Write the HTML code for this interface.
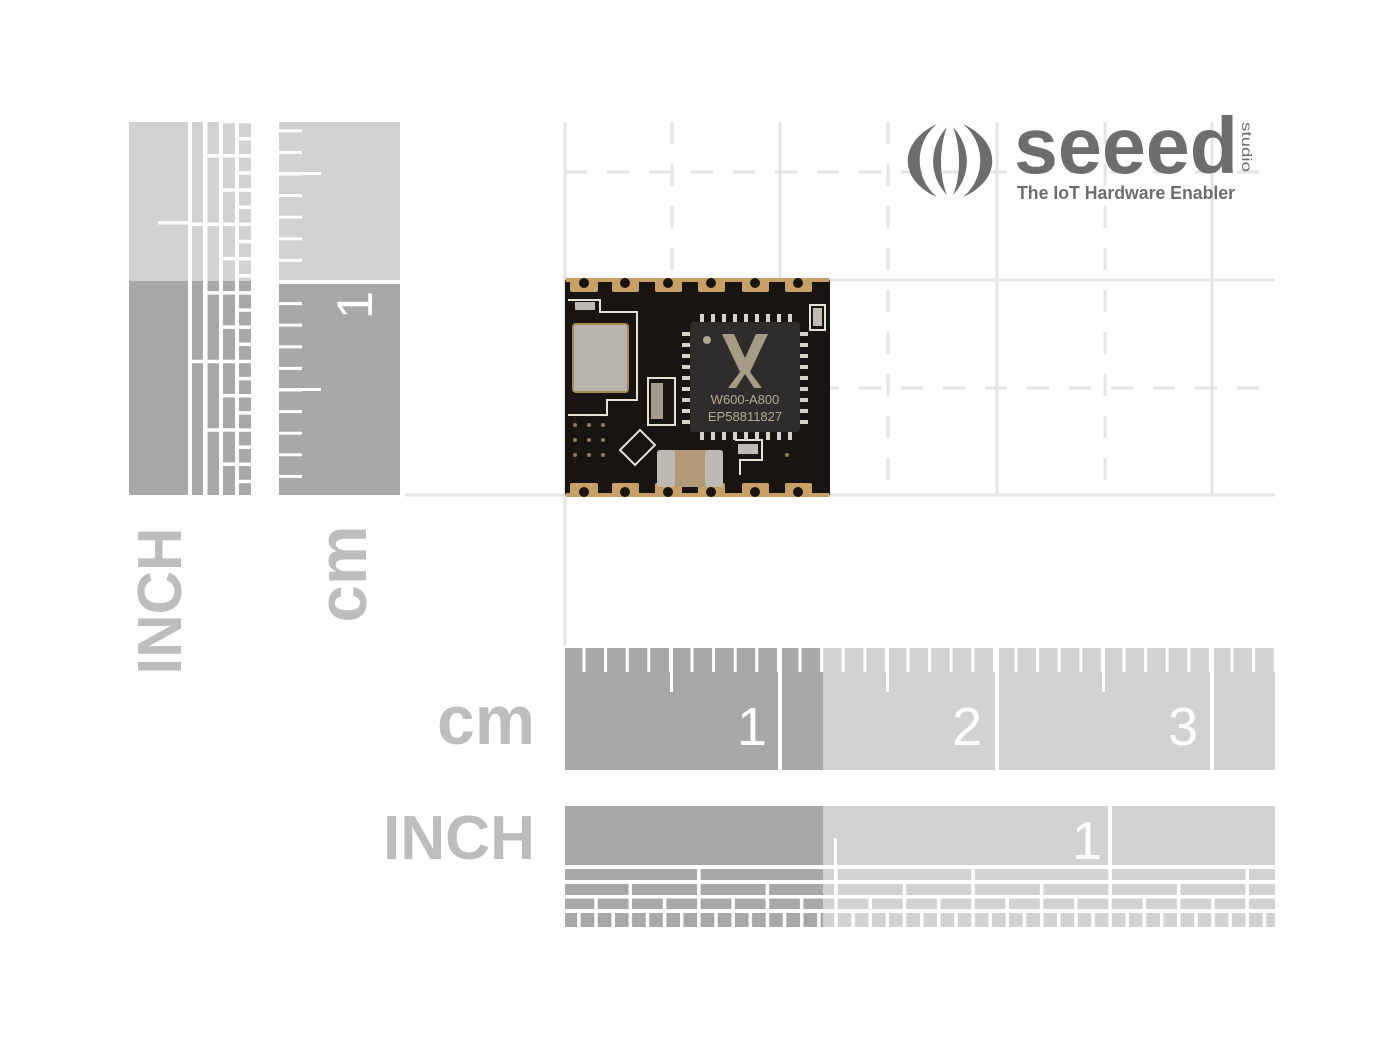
<!DOCTYPE html>
<html><head><meta charset="utf-8"><style>html,body{margin:0;padding:0;background:#fff}svg{display:block}</style></head>
<body>
<svg width="1400" height="1050" viewBox="0 0 1400 1050" xmlns="http://www.w3.org/2000/svg">
<defs>
<pattern id="tkH" patternUnits="userSpaceOnUse" x="582.5" y="0" width="21.6" height="1050"><rect x="0" y="0" width="3" height="1050" fill="#fff"/></pattern>
<pattern id="tkV" patternUnits="userSpaceOnUse" x="0" y="-0.3" width="1400" height="21.6"><rect x="0" y="0" width="1400" height="3" fill="#fff"/></pattern>
<pattern id="r1" patternUnits="userSpaceOnUse" x="560" y="0" width="137.1" height="1050"><rect x="0" y="0" width="3.5" height="1050" fill="#fff"/></pattern>
<pattern id="r2" patternUnits="userSpaceOnUse" x="560" y="0" width="68.55" height="1050"><rect x="0" y="0" width="3.5" height="1050" fill="#fff"/></pattern>
<pattern id="r3" patternUnits="userSpaceOnUse" x="560" y="0" width="34.27" height="1050"><rect x="0" y="0" width="3.5" height="1050" fill="#fff"/></pattern>
<pattern id="r4" patternUnits="userSpaceOnUse" x="560" y="0" width="17.14" height="1050"><rect x="0" y="0" width="3.5" height="1050" fill="#fff"/></pattern>
<pattern id="v1" patternUnits="userSpaceOnUse" x="0" y="85.5" width="1400" height="137.1"><rect x="0" y="0" width="1400" height="3.5" fill="#fff"/></pattern>
<pattern id="v2" patternUnits="userSpaceOnUse" x="0" y="85.5" width="1400" height="68.55"><rect x="0" y="0" width="1400" height="3.5" fill="#fff"/></pattern>
<pattern id="v3" patternUnits="userSpaceOnUse" x="0" y="85.5" width="1400" height="34.27"><rect x="0" y="0" width="1400" height="3.5" fill="#fff"/></pattern>
<pattern id="v4" patternUnits="userSpaceOnUse" x="0" y="85.5" width="1400" height="17.14"><rect x="0" y="0" width="1400" height="3.5" fill="#fff"/></pattern>
</defs>

<!-- grid -->
<g stroke="#e5e5e5" stroke-width="3" fill="none">
<line x1="565" y1="122" x2="565" y2="645"/>
<line x1="780" y1="122" x2="780" y2="495"/>
<line x1="997" y1="122" x2="997" y2="495"/>
<line x1="1212" y1="122" x2="1212" y2="495"/>
<line x1="565" y1="280" x2="1275" y2="280"/>
<line x1="405" y1="495" x2="1275" y2="495"/>
<g stroke-dasharray="22 20">
<line x1="672" y1="122" x2="672" y2="495"/>
<line x1="888" y1="122" x2="888" y2="495"/>
<line x1="1105" y1="122" x2="1105" y2="495"/>
<line x1="565" y1="172" x2="1275" y2="172"/>
<line x1="565" y1="388" x2="1275" y2="388"/>
</g>
</g>

<!-- left INCH ruler -->
<rect x="129" y="122" width="122" height="159" fill="#d2d2d2"/>
<rect x="129" y="281" width="122" height="214" fill="#a8a8a8"/>
<rect x="188" y="122" width="4" height="373" fill="#fff"/>
<rect x="203" y="122" width="4.5" height="373" fill="#fff"/>
<rect x="219" y="122" width="4" height="373" fill="#fff"/>
<rect x="235" y="122" width="4" height="373" fill="#fff"/>
<rect x="192" y="122" width="11" height="373" fill="url(#v1)"/>
<rect x="207.5" y="122" width="11.5" height="373" fill="url(#v2)"/>
<rect x="223" y="122" width="12" height="373" fill="url(#v3)"/>
<rect x="239" y="122" width="12" height="373" fill="url(#v4)"/>
<rect x="158" y="221" width="34" height="3.5" fill="#fff"/>

<!-- left cm ruler -->
<rect x="279" y="122" width="121" height="158" fill="#d2d2d2"/>
<rect x="279" y="284" width="121" height="211" fill="#a8a8a8"/>
<rect x="279" y="122" width="23" height="373" fill="url(#tkV)"/>
<rect x="279" y="172" width="42" height="3" fill="#fff"/>
<rect x="279" y="388" width="42" height="3" fill="#fff"/>
<text transform="translate(372,305) rotate(-90)" text-anchor="middle" font-family="Liberation Sans, sans-serif" font-size="50" fill="#fff">1</text>

<!-- rotated labels -->
<text transform="translate(181,601) rotate(-90)" text-anchor="middle" font-family="Liberation Sans, sans-serif" font-weight="bold" font-size="62" fill="#bdbdbd" textLength="147" lengthAdjust="spacingAndGlyphs">INCH</text>
<text transform="translate(366,574) rotate(-90)" text-anchor="middle" font-family="Liberation Sans, sans-serif" font-weight="bold" font-size="70" fill="#bdbdbd" textLength="97" lengthAdjust="spacingAndGlyphs">cm</text>
<text x="535" y="744" text-anchor="end" font-family="Liberation Sans, sans-serif" font-weight="bold" font-size="70" fill="#bdbdbd" textLength="98" lengthAdjust="spacingAndGlyphs">cm</text>
<text x="535" y="859" text-anchor="end" font-family="Liberation Sans, sans-serif" font-weight="bold" font-size="62" fill="#bdbdbd" textLength="152" lengthAdjust="spacingAndGlyphs">INCH</text>

<!-- bottom cm ruler -->
<rect x="565" y="648" width="258" height="122" fill="#a8a8a8"/>
<rect x="823" y="648" width="452" height="122" fill="#d2d2d2"/>
<rect x="565" y="648" width="710" height="24" fill="url(#tkH)"/>
<rect x="670" y="648" width="3" height="44" fill="#fff"/>
<rect x="886" y="648" width="3" height="44" fill="#fff"/>
<rect x="1102" y="648" width="3" height="44" fill="#fff"/>
<rect x="778" y="648" width="4" height="122" fill="#fff"/>
<rect x="995" y="648" width="4" height="122" fill="#fff"/>
<rect x="1210" y="648" width="4" height="122" fill="#fff"/>
<g font-family="Liberation Sans, sans-serif" font-size="54" fill="#fff" text-anchor="middle">
<text x="752" y="745">1</text>
<text x="967" y="745">2</text>
<text x="1183" y="745">3</text>
</g>

<!-- bottom INCH ruler -->
<rect x="565" y="806" width="258" height="59" fill="#a8a8a8"/>
<rect x="823" y="806" width="452" height="59" fill="#d2d2d2"/>
<rect x="1108" y="806" width="4" height="59" fill="#fff"/>
<text x="1087" y="859" text-anchor="middle" font-family="Liberation Sans, sans-serif" font-size="54" fill="#fff">1</text>
<rect x="565" y="869" width="258" height="58" fill="#a8a8a8"/>
<rect x="823" y="869" width="452" height="58" fill="#d2d2d2"/>
<rect x="565" y="880" width="710" height="4" fill="#fff"/>
<rect x="565" y="895" width="710" height="3.5" fill="#fff"/>
<rect x="565" y="909" width="710" height="4" fill="#fff"/>
<rect x="565" y="869" width="710" height="11" fill="url(#r1)"/>
<rect x="565" y="884" width="710" height="11" fill="url(#r2)"/>
<rect x="565" y="898.5" width="710" height="10.5" fill="url(#r3)"/>
<rect x="565" y="913" width="710" height="14" fill="url(#r4)"/>
<rect x="834" y="838" width="3" height="54" fill="#fff"/>

<!-- logo -->
<g fill="#6d6d6d">
<path d="M937,124 C898,142 898,180 937,197 C914,178 914,143 937,124 Z"/>
<path d="M963,124 C1002,142 1002,180 963,197 C986,178 986,143 963,124 Z"/>
<path d="M947,127 C928,148 929,176 947,195 C939,176 939,148 947,127 Z"/>
<path d="M953,127 C972,148 971,176 953,195 C961,176 961,148 953,127 Z"/>
</g>
<text x="1014" y="173" font-family="Liberation Sans, sans-serif" font-weight="bold" font-size="80" fill="#6d6d6d" textLength="224" lengthAdjust="spacingAndGlyphs">seeed</text>
<text transform="translate(1242,122) rotate(90)" font-family="Liberation Sans, sans-serif" font-size="14" fill="#6d6d6d" textLength="50" lengthAdjust="spacingAndGlyphs">studio</text>
<text x="1017" y="199" font-family="Liberation Sans, sans-serif" font-weight="bold" font-size="18" fill="#6d6d6d" textLength="218" lengthAdjust="spacingAndGlyphs">The IoT Hardware Enabler</text>

<!-- module -->
<rect x="565" y="278" width="265" height="219" rx="4" fill="#171412"/>
<g fill="#c8a066">
<rect x="566" y="278" width="263" height="4"/>
<rect x="566" y="493" width="263" height="4"/>
<rect x="570" y="278" width="28" height="14" rx="2"/><rect x="612" y="278" width="27" height="14" rx="2"/><rect x="655" y="278" width="27" height="14" rx="2"/><rect x="698" y="278" width="27" height="14" rx="2"/><rect x="742" y="278" width="27" height="14" rx="2"/><rect x="785" y="278" width="27" height="14" rx="2"/>
<rect x="570" y="483" width="28" height="14" rx="2"/><rect x="612" y="483" width="27" height="14" rx="2"/><rect x="655" y="483" width="27" height="14" rx="2"/><rect x="698" y="483" width="27" height="14" rx="2"/><rect x="742" y="483" width="27" height="14" rx="2"/><rect x="785" y="483" width="27" height="14" rx="2"/>
</g>
<g fill="#171412">
<circle cx="584" cy="283" r="5"/><circle cx="625" cy="283" r="5"/><circle cx="668" cy="283" r="5"/><circle cx="711" cy="283" r="5"/><circle cx="755" cy="283" r="5"/><circle cx="798" cy="283" r="5"/>
<circle cx="584" cy="492" r="5"/><circle cx="625" cy="492" r="5"/><circle cx="668" cy="492" r="5"/><circle cx="711" cy="492" r="5"/><circle cx="755" cy="492" r="5"/><circle cx="798" cy="492" r="5"/>
</g>
<!-- silkscreen outlines -->
<g fill="none" stroke="#e8e2d6" stroke-width="2">
<path d="M568,300 L600,300 L600,312 L637,312 L637,400 L607,400 L607,415 L568,415"/>
<path d="M648,378 L675,378 L675,425 L648,425 Z"/>
<path d="M735,440 L762,440 L762,460 L740,460 L740,475"/>
<path d="M810,305 L825,305 L825,330 L810,330 Z"/>
<path d="M620,450 L640,430 L655,445 L635,465 Z"/>
</g>
<!-- crystal -->
<rect x="573" y="324" width="55" height="68" rx="3" fill="#b9b5ae" stroke="#a88a52" stroke-width="2"/>
<!-- small parts -->
<rect x="651" y="383" width="12" height="36" fill="#a39a88"/>
<rect x="575" y="302" width="20" height="8" fill="#c0bbb2"/>
<rect x="813" y="308" width="9" height="18" fill="#c0bbb2"/>
<rect x="738" y="444" width="20" height="10" fill="#c0bbb2"/>
<!-- capacitor -->
<rect x="657" y="450" width="66" height="37" rx="3" fill="#b29a78"/>
<rect x="657" y="450" width="18" height="37" rx="3" fill="#bdbab4"/>
<rect x="705" y="450" width="18" height="37" rx="3" fill="#bdbab4"/>
<!-- IC pins -->
<g fill="#d6d2ca">
<rect x="700" y="314" width="4" height="8"/><rect x="711" y="314" width="4" height="8"/><rect x="722" y="314" width="4" height="8"/><rect x="733" y="314" width="4" height="8"/><rect x="744" y="314" width="4" height="8"/><rect x="755" y="314" width="4" height="8"/><rect x="766" y="314" width="4" height="8"/><rect x="777" y="314" width="4" height="8"/><rect x="788" y="314" width="4" height="8"/>
<rect x="700" y="432" width="4" height="8"/><rect x="711" y="432" width="4" height="8"/><rect x="722" y="432" width="4" height="8"/><rect x="733" y="432" width="4" height="8"/><rect x="744" y="432" width="4" height="8"/><rect x="755" y="432" width="4" height="8"/><rect x="766" y="432" width="4" height="8"/><rect x="777" y="432" width="4" height="8"/><rect x="788" y="432" width="4" height="8"/>
<rect x="682" y="332" width="8" height="4"/><rect x="682" y="343" width="8" height="4"/><rect x="682" y="354" width="8" height="4"/><rect x="682" y="365" width="8" height="4"/><rect x="682" y="376" width="8" height="4"/><rect x="682" y="387" width="8" height="4"/><rect x="682" y="398" width="8" height="4"/><rect x="682" y="409" width="8" height="4"/><rect x="682" y="420" width="8" height="4"/>
<rect x="800" y="332" width="8" height="4"/><rect x="800" y="343" width="8" height="4"/><rect x="800" y="354" width="8" height="4"/><rect x="800" y="365" width="8" height="4"/><rect x="800" y="376" width="8" height="4"/><rect x="800" y="387" width="8" height="4"/><rect x="800" y="398" width="8" height="4"/><rect x="800" y="409" width="8" height="4"/><rect x="800" y="420" width="8" height="4"/>
</g>
<rect x="690" y="322" width="110" height="110" rx="3" fill="#2f2d2b"/>
<circle cx="707" cy="340" r="4" fill="#b0a690"/>
<path d="M722,334 L734,334 L745,358 L756,334 L768,334 L750,372 L762,388 L754,388 L745,374 L736,388 L728,388 L740,372 Z" fill="#a69c86"/>
<text x="745" y="404" text-anchor="middle" font-family="Liberation Sans, sans-serif" font-size="13" fill="#b5aa92">W600-A800</text>
<text x="745" y="421" text-anchor="middle" font-family="Liberation Sans, sans-serif" font-size="13" fill="#b5aa92">EP58811827</text>
<!-- vias -->
<g fill="#8a7a5e">
<circle cx="575" cy="425" r="2"/><circle cx="589" cy="425" r="2"/><circle cx="603" cy="425" r="2"/>
<circle cx="575" cy="440" r="2"/><circle cx="589" cy="440" r="2"/><circle cx="603" cy="440" r="2"/>
<circle cx="575" cy="455" r="2"/><circle cx="589" cy="455" r="2"/><circle cx="603" cy="455" r="2"/>
<circle cx="787" cy="455" r="2"/>
</g>
</svg>
</body></html>
